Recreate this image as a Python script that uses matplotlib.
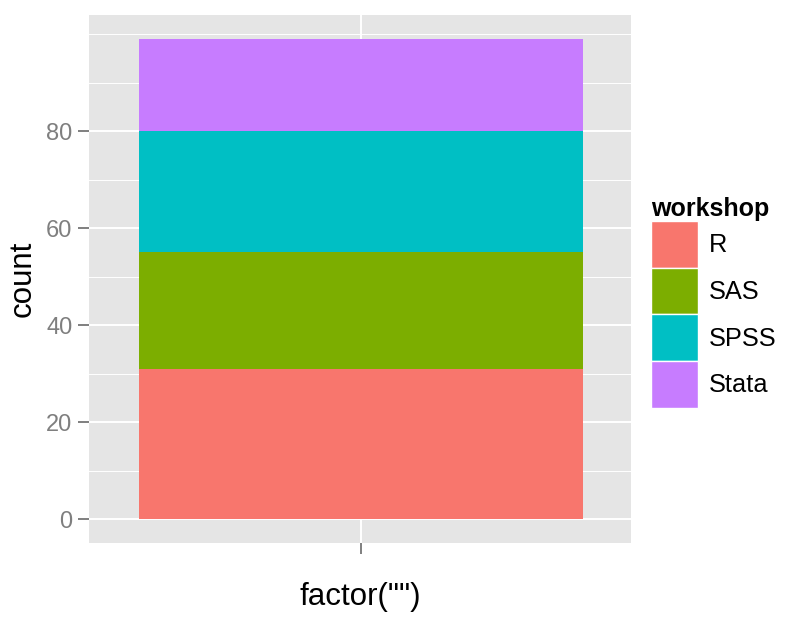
import matplotlib.pyplot as plt
from matplotlib.patches import Patch
from matplotlib.ticker import MultipleLocator

plt.rcParams['font.family'] = ['Liberation Sans', 'DejaVu Sans']

workshops = ['R', 'SAS', 'SPSS', 'Stata']
counts = [31, 24, 25, 19]
colors = ['#F8766D', '#7CAE00', '#00BFC4', '#C77CFF']

fig = plt.figure(figsize=(7.85, 6.31), dpi=100)
ax = fig.add_axes([89 / 785, 1 - 543 / 631, 542 / 785, 528 / 631])
ax.set_facecolor('#E5E5E5')

bottom = 0
for name, n, c in zip(workshops, counts, colors):
    ax.bar(1, n, width=0.9, bottom=bottom, color=c, zorder=3)
    bottom += n

total = sum(counts)
ax.set_ylim(-0.05 * total, total * 1.05)
ax.set_xlim(0.4486, 1.5473)
ax.set_xticks([1])
ax.set_xticklabels([''])
ax.yaxis.set_major_locator(MultipleLocator(20))
ax.yaxis.set_minor_locator(MultipleLocator(10))
ax.set_yticks([0, 20, 40, 60, 80])

ax.grid(which='major', color='white', linewidth=1.4, zorder=0)
ax.grid(which='minor', axis='y', color='white', linewidth=0.7, zorder=0)
ax.set_axisbelow(True)
for s in ax.spines.values():
    s.set_visible(False)

ax.tick_params(axis='both', which='major', colors='#7F7F7F', length=8, width=1.4,
               labelsize=17, pad=4)
ax.tick_params(axis='y', which='minor', length=0)
ax.tick_params(axis='x', pad=0)

ax.set_ylabel('count', fontsize=22.5, labelpad=6)
ax.set_xlabel('factor("")', fontsize=22.5, labelpad=20)

handles = [Patch(facecolor=c, edgecolor='white', linewidth=1) for c in colors]
leg = fig.legend(handles, workshops, loc='upper left',
                 bbox_to_anchor=(651 / 785, 1 - 197 / 631),
                 frameon=False, fontsize=18.3, title='workshop',
                 title_fontproperties={'weight': 'bold', 'size': 18},
                 handlelength=1.84, handleheight=2.45, labelspacing=0.0,
                 handletextpad=0.42, borderpad=0, borderaxespad=0,
                 alignment='left')

fig.savefig('out.png', dpi=100)
